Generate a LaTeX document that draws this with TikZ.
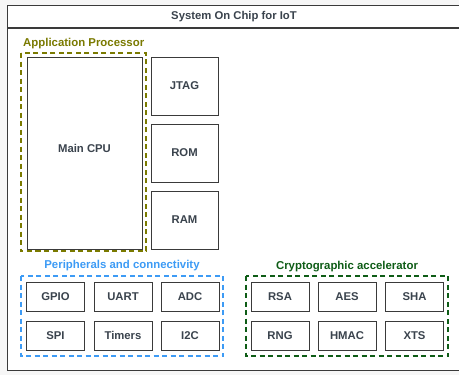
\documentclass[tikz,border=0pt]{standalone}
\usepackage{fontspec}
\setmainfont{Liberation Sans}
\definecolor{txt}{HTML}{3A434D}
\definecolor{olivec}{HTML}{7A7A00}
\definecolor{bluec}{HTML}{3D9BF5}
\definecolor{greenc}{HTML}{0E5C16}
\definecolor{edge}{HTML}{3A3A3A}
\begin{document}
\begin{tikzpicture}[x=1pt,y=-1pt,
  blk/.style={draw=edge,line width=1pt,fill=white,text=txt,font=\bfseries\fontsize{11.3}{13}\selectfont,inner sep=0pt},
  grp/.style={dash pattern=on 5pt off 3.5pt,line width=1.7pt},
  lbl/.style={font=\bfseries\fontsize{11.4}{13}\selectfont,inner sep=0pt}]
\useasboundingbox (0,0) rectangle (459,375);
\fill[gray!7] (0,0) rectangle (459,375);
% outer container
\draw[edge,line width=1pt,fill=white] (7,5) rectangle (462,370);
\draw[edge,line width=1.3pt] (7,28) -- (462,28);
\node[text=txt,font=\bfseries\fontsize{11.3}{13}\selectfont,inner sep=0pt] (title) at (234,17) {System On Chip for IoT};
% application processor
\draw[grp,draw=olivec] (21,53) rectangle (146,251);
\node[lbl,text=olivec,anchor=west] (applbl) at (23,44) {Application Processor};
\node[blk,minimum width=115pt,minimum height=192pt,
  label={[text=txt,font=\bfseries\fontsize{11.3}{13}\selectfont,inner sep=0pt,yshift=5pt]center:Main CPU}] (cpu) at (84.5,153) {};
\node[blk,minimum width=67pt,minimum height=58pt] (jtag) at (184.5,86) {JTAG};
\node[blk,minimum width=67pt,minimum height=58pt] (rom) at (184.5,153) {ROM};
\node[blk,minimum width=67pt,minimum height=58pt] (ram) at (184.5,220) {RAM};
% peripherals
\draw[grp,draw=bluec] (21,276) rectangle (223,356);
\node[lbl,text=bluec] (perlbl) at (122,266) {Peripherals and connectivity};
\node[blk,minimum width=58pt,minimum height=29pt] (gpio) at (55.5,296.5) {GPIO};
\node[blk,minimum width=58pt,minimum height=29pt] (uart) at (123,296.5) {UART};
\node[blk,minimum width=58pt,minimum height=29pt] (adc) at (190,296.5) {ADC};
\node[blk,minimum width=58pt,minimum height=29pt] (spi) at (55.5,335.5) {SPI};
\node[blk,minimum width=58pt,minimum height=29pt] (timers) at (123,335.5) {Timers};
\node[blk,minimum width=58pt,minimum height=29pt] (i2c) at (190,335.5) {I2C};
% crypto
\draw[grp,draw=greenc] (246,276) rectangle (448,356);
\node[lbl,text=greenc] (crlbl) at (347,267) {Cryptographic accelerator};
\node[blk,minimum width=58pt,minimum height=29pt] (rsa) at (280,296.5) {RSA};
\node[blk,minimum width=58pt,minimum height=29pt] (aes) at (347,296.5) {AES};
\node[blk,minimum width=58pt,minimum height=29pt] (sha) at (414.5,296.5) {SHA};
\node[blk,minimum width=58pt,minimum height=29pt] (rng) at (280,335.5) {RNG};
\node[blk,minimum width=58pt,minimum height=29pt] (hmac) at (347,335.5) {HMAC};
\node[blk,minimum width=58pt,minimum height=29pt] (xts) at (414.5,335.5) {XTS};
\end{tikzpicture}
\end{document}
